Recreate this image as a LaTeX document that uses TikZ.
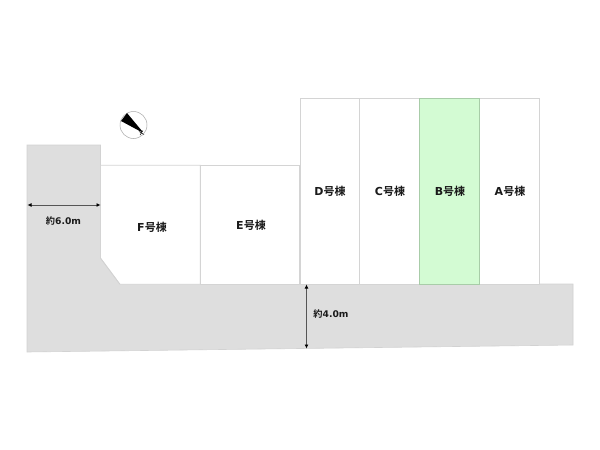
\documentclass[tikz,border=0pt]{standalone}
\usepackage{fontspec}
\setmainfont{DejaVu Sans Bold}
\newfontfamily\cjkbold{Noto Sans CJK JP Bold}
\newcommand{\kj}[1]{{\cjkbold #1}}
\usetikzlibrary{arrows.meta}
\definecolor{roadgray}{HTML}{DEDEDE}
\definecolor{roadedge}{HTML}{D2D2D2}
\definecolor{lotedge}{HTML}{D4D4D4}
\definecolor{lotgreen}{HTML}{D3FBD3}
\definecolor{greenedge}{HTML}{A8CCA8}
\definecolor{dimline}{HTML}{555555}
\definecolor{labelink}{HTML}{1A1A1A}
\tikzset{
  lot/.style={draw=lotedge,line width=0.7pt,fill=white,anchor=north west,inner sep=0pt,outer sep=0pt},
  lotlabel/.style={font=\fontsize{11}{12}\selectfont,text=labelink,inner sep=0pt},
  dimlabel/.style={font=\fontsize{9.2}{11}\selectfont,text=labelink,inner sep=0pt},
  dimarrow/.style={draw=dimline,line width=0.8pt,{Latex[length=4pt,width=4pt,black]}-{Latex[length=4pt,width=4pt,black]}},
}
\begin{document}
\begin{tikzpicture}[x=1pt,y=-1pt]
\useasboundingbox (0,0) rectangle (600,450);
\fill[white] (0,0) rectangle (600,450);
% road
\draw[fill=roadgray,draw=roadedge,line width=0.6pt]
  (27,145) -- (100.5,145) -- (100.5,258) -- (120,284) -- (573,284) -- (573,345) -- (27,352) -- cycle;
% lots
\draw[draw=lotedge,line width=0.7pt,fill=white]
  (100.5,165.2) -- (200.3,165.2) -- (200.3,284.3) -- (120,284.3) -- (100.5,258) -- cycle;
\node[lot,minimum width=99.5pt,minimum height=119pt] (lotE) at (200.3,165.2) {};
\draw[draw=roadedge,line width=0.6pt] (100.5,258) -- (120,284.3);
\node[lot,minimum width=59.7pt,minimum height=186pt] (lotD) at (299.9,98.3) {};
\node[lot,minimum width=59.7pt,minimum height=186pt] (lotC) at (359.6,98.3) {};
\node[lot,minimum width=59.7pt,minimum height=186pt] (lotA) at (479.6,98.3) {};
\node[lot,draw=greenedge,fill=lotgreen,minimum width=60.3pt,minimum height=186pt] (lotB) at (419.3,98.3) {};
% lot labels
\node[lotlabel] at (152,227) {F\kj{号棟}};
\node[lotlabel] at (251,225) {E\kj{号棟}};
\node[lotlabel] at (330,191) {D\kj{号棟}};
\node[lotlabel] at (390,191) {C\kj{号棟}};
\node[lotlabel] at (450,191) {B\kj{号棟}};
\node[lotlabel] at (510,191) {A\kj{号棟}};
% dimensions
\coordinate (w1) at (27.5,205);
\coordinate (w2) at (100.5,205);
\draw[dimarrow] (w1) -- (w2);
\node[dimlabel] at (63.5,221) {\kj{約}6.0m};
\coordinate (h1) at (306.5,284.5);
\coordinate (h2) at (306.5,348.5);
\draw[dimarrow] (h1) -- (h2);
\node[dimlabel] at (331,314) {\kj{約}4.0m};
% compass
\coordinate (cc) at (133.5,125);
\draw[draw=gray!70,line width=0.5pt,fill=white] (cc) circle (13.5);
\fill[black] (127,113) -- (121,121) -- (141.5,132) -- (142,131) -- cycle;
\draw[black,line width=0.5pt] (139,131.5) -- (144,134.5) (143,130.5) -- (140,135);
\end{tikzpicture}
\end{document}
